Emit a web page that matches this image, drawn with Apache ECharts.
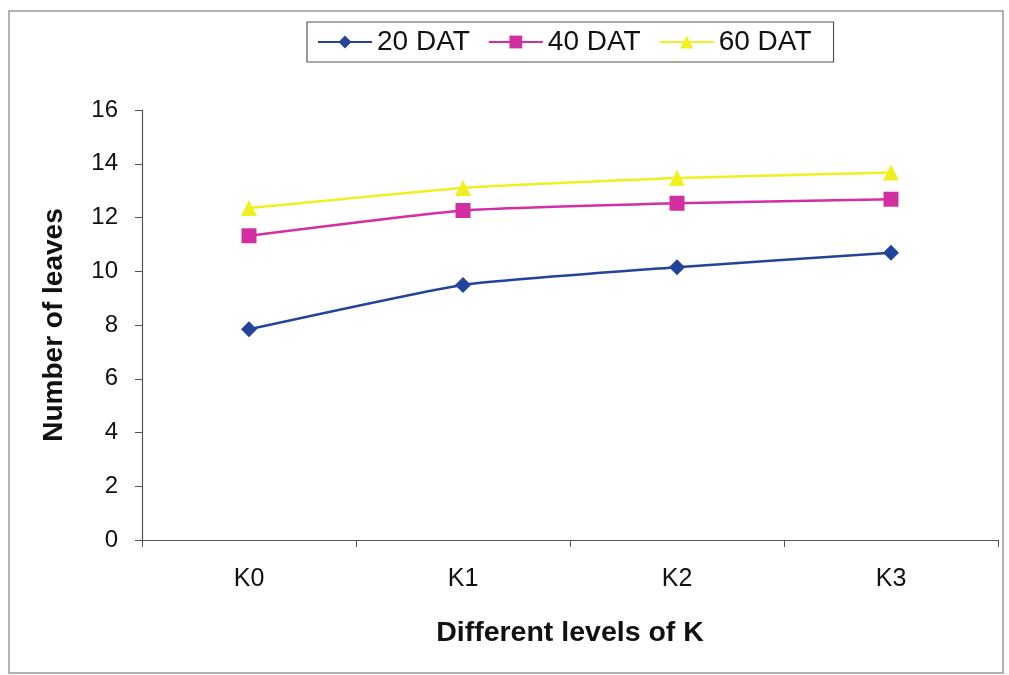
<!DOCTYPE html>
<html><head><meta charset="utf-8">
<script src="https://cdn.jsdelivr.net/npm/echarts@6/dist/echarts.min.js"></script>
<style>html,body{margin:0;padding:0;background:#fff;}#c{width:1009px;height:675px;}</style>
</head><body><div id="c"></div>
<script>
var categories = ['K0', 'K1', 'K2', 'K3'];
var dat20 = [7.84, 9.49, 10.15, 10.69];
var dat40 = [11.32, 12.26, 12.53, 12.68];
var dat60 = [12.35, 13.1, 13.47, 13.67];
var seriesNames = ['20 DAT', '40 DAT', '60 DAT'];
var yTicks = [0, 2, 4, 6, 8, 10, 12, 14, 16];

var FONT = '"Liberation Sans", Arial, sans-serif';
var chart = echarts.init(document.getElementById('c'), null, {renderer: 'canvas'});
function mk(name, data, color, symbol, size) {
  return {
    name: name, type: 'line', data: data, smooth: 0.15,
    symbol: symbol, symbolSize: size,
    lineStyle: {color: color, width: 2.5},
    itemStyle: {color: color},
    z: 3
  };
}
chart.setOption({
  animation: false,
  backgroundColor: '#fff',
  textStyle: {fontFamily: FONT},
  graphic: [{
    type: 'rect', shape: {x: 9, y: 11, width: 994, height: 662},
    style: {fill: 'none', stroke: '#999', lineWidth: 1.5}, silent: true
  }],
  legend: {
    top: 22, left: 307,
    itemGap: 18, itemWidth: 54, itemHeight: 16,
    padding: [6, 22, 6, 10],
    borderColor: '#555', borderWidth: 1.2,
    textStyle: {fontFamily: FONT, fontSize: 28, color: '#111'},
    data: seriesNames
  },
  grid: {left: 142, right: 11, top: 110, bottom: 135, containLabel: false},
  xAxis: {
    type: 'category', data: categories, boundaryGap: true,
    name: 'Different levels of K', nameLocation: 'middle', nameGap: 79,
    nameTextStyle: {fontFamily: FONT, fontSize: 28.5, fontWeight: 'bold', color: '#111'},
    axisLine: {lineStyle: {color: '#555', width: 1.2}},
    axisTick: {show: true, alignWithLabel: false, length: 7, lineStyle: {color: '#555'}},
    axisLabel: {fontFamily: FONT, fontSize: 25, color: '#111', margin: 27},
    splitLine: {show: false}
  },
  yAxis: {
    type: 'value', min: 0, max: 16, interval: 2,
    name: 'Number of leaves', nameLocation: 'middle', nameGap: 74, nameRotate: 90,
    nameTextStyle: {fontFamily: FONT, fontSize: 28, fontWeight: 'bold', color: '#111'},
    axisLine: {show: true, lineStyle: {color: '#555', width: 1.2}},
    axisTick: {show: true, length: 7, lineStyle: {color: '#555'}},
    axisLabel: {fontFamily: FONT, fontSize: 24, color: '#111', margin: 24,
      formatter: function (v) { return yTicks.indexOf(v) >= 0 ? String(v) : ''; }},
    splitLine: {show: false}
  },
  series: [
    mk(seriesNames[0], dat20, '#23449a', 'diamond', 16),
    mk(seriesNames[1], dat40, '#d42ea3', 'rect', 15),
    mk(seriesNames[2], dat60, '#f0f020', 'triangle', 16)
  ]
});
</script></body></html>
